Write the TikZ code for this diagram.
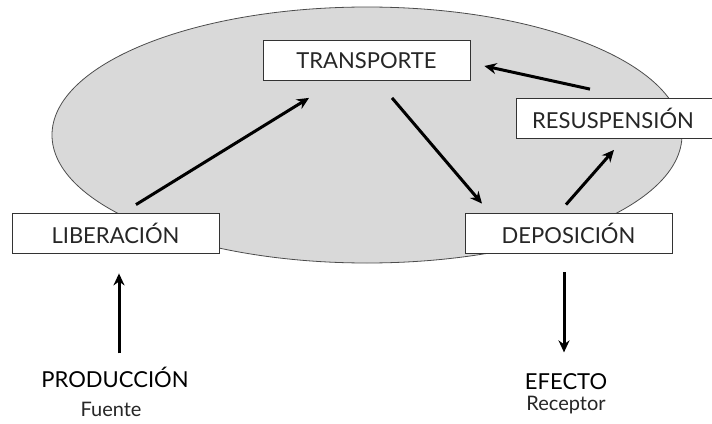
\documentclass[tikz,border=0pt]{standalone}
\usepackage{fontspec}
\setmainfont{Lato}
\usetikzlibrary{arrows.meta,positioning}
\tikzset{stage node/.style={rectangle,fill=white,draw=black!80,line width=0.8pt,minimum width=207pt,minimum height=40pt,inner sep=0pt,font=\fontsize{22}{24}\selectfont\color{black!85}},
         end label/.style={rectangle,draw=none,fill=none,inner sep=0pt,anchor=base,font=\fontsize{22}{24}\selectfont},
         sub label/.style={rectangle,draw=none,fill=none,inner sep=0pt,anchor=base,font=\fontsize{20}{22}\selectfont\color{black!85}},
         flow/.style={->,line width=3pt}
}

\begin{document}
\begin{tikzpicture}[x=1pt,y=-1pt,
>={Stealth[length=12pt,width=11pt]}]
\useasboundingbox (0,0) rectangle (712,423);
\draw[fill=gray!30,draw=black!70,line width=0.8pt] (367,135) ellipse [x radius=315,y radius=128];

\node [stage node] (trans) at (366.5,60.5) {TRANSPORTE};
\node [stage node] (lib) at (115.5,233) {LIBERACIÓN};
\node [stage node] (dep) at (568.5,233) {DEPOSICIÓN};
\node [stage node, minimum width=200pt] (res) at (616,118.5) {\hspace*{-6pt}RESUSPENSIÓN};

\node [end label] (prod) at (115,387) {PRODUCCIÓN};
\node [sub label] (fuente) at (111,416) {Fuente};
\node [end label] (efecto) at (566,389) {EFECTO};
\node [sub label] (receptor) at (566,410) {Receptor};

\draw[flow] ([shift={(20.5,-8)}]lib.north) -- ([shift={(-57.5,17)}]trans.south);
\draw[flow] ([shift={(25.5,17)}]trans.south) -- ([shift={(-86.5,-9)}]dep.north);
\draw[flow] ([shift={(-2.5,-8)}]dep.north) -- ([shift={(-2,11)}]res.south);
\draw[flow] ([shift={(-26,-9)}]res.north) -- ([shift={(14,5.5)}]trans.east);
\draw[flow] ([shift={(3.5,100)}]lib.south) -- ([shift={(3.5,20)}]lib.south);
\draw[flow] ([shift={(-4.5,19)}]dep.south) -- ([shift={(-4.5,99)}]dep.south);
\end{tikzpicture}
\end{document}
